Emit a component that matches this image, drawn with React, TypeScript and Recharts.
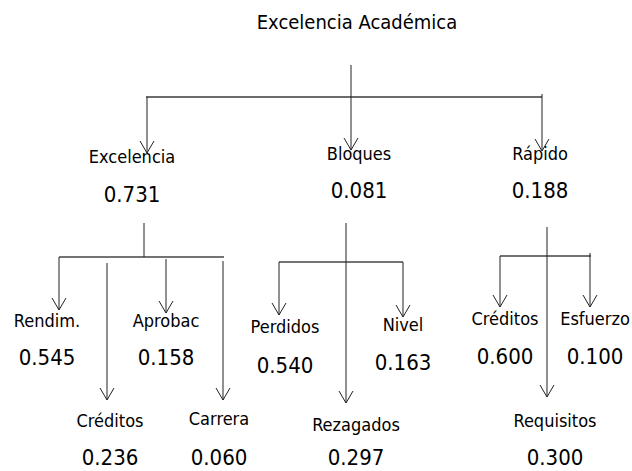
import { ScatterChart, Scatter, XAxis, YAxis, ReferenceLine } from "recharts";

// tree: names, weights and parent of each node
const nodeNames = [
  "Excelencia Académica",
  "Excelencia", "Bloques", "Rápido",
  "Rendim.", "Créditos", "Aprobac", "Carrera",
  "Perdidos", "Rezagados", "Nivel",
  "Créditos", "Requisitos", "Esfuerzo",
];
const nodeWeights = [null, 0.731, 0.081, 0.188, 0.545, 0.236, 0.158, 0.06, 0.54, 0.297, 0.163, 0.6, 0.3, 0.1];
const nodeParents = [-1, 0, 0, 0, 1, 1, 1, 1, 2, 2, 2, 3, 3, 3];

// drawing layout in px (y grows downward)
const labelAt = [
  [357, 29], [132, 163], [359, 160], [540, 160],
  [47, 327], [110, 427], [166, 327], [219, 425],
  [285, 333], [356, 431], [403, 331],
  [505, 325], [555, 427], [595, 325],
];
const valueBaseline = [0, 202, 198, 198, 365, 465, 365, 465, 373, 465, 370, 364, 465, 364];
// arrow into each node: x, start y, tip y
const arrowAt = [
  null, [147, 97, 153], [351, 65, 150], [542, 94, 151],
  [59, 257, 310], [107, 263, 400], [166, 259, 313], [223, 261, 400],
  [279, 262, 315], [346, 223, 403], [403, 262, 317],
  [500, 256, 307], [547, 227, 397], [590, 253, 307],
];
// horizontal bar under each parent: y, x from, x to
const barAt: Record<number, number[]> = {
  0: [97, 146, 542],
  1: [257, 59, 224],
  2: [262, 279, 403],
  3: [256, 500, 591],
};
const stems = [[144, 223, 257]];

const FONT = "'DejaVu Sans Condensed', 'DejaVu Sans', sans-serif";

const labelPoints = nodeNames.map((name, i) => ({
  x: labelAt[i][0],
  y: labelAt[i][1],
  text: name,
  size: i === 0 ? 20 : 18,
}));
const valuePoints = nodeWeights
  .map((w, i) => (w == null ? null : { x: labelAt[i][0], y: valueBaseline[i], text: w.toFixed(3), size: 22 }))
  .filter(Boolean);

const TextShape = (props: any) => (
  <text
    x={props.cx}
    y={props.cy}
    textAnchor="middle"
    fontFamily={FONT}
    fontStretch="semi-condensed"
    fontSize={props.payload.size}
    fill="#000"
  >
    {props.payload.text}
  </text>
);

export default function App() {
  const lines: any[] = [];
  Object.entries(barAt).forEach(([p, [y, x1, x2]]) => {
    lines.push({ k: "bar" + p, a: { x: x1, y }, b: { x: x2, y }, stroke: p === "0" ? "#6b6b6b" : "#444", w: p === "0" ? 2 : 1.5 });
  });
  stems.forEach(([x, y1, y2], i) => {
    lines.push({ k: "stem" + i, a: { x, y: y1 }, b: { x, y: y2 }, stroke: "#222", w: 1 });
  });
  nodeParents.forEach((p, i) => {
    if (p < 0) return;
    const [x, y1, tip] = arrowAt[i] as number[];
    lines.push({ k: "arr" + i, a: { x, y: y1 }, b: { x, y: tip }, stroke: "#222", w: 1 });
    lines.push({ k: "hl" + i, a: { x: x - 7, y: tip - 12 }, b: { x, y: tip }, stroke: "#222", w: 1 });
    lines.push({ k: "hr" + i, a: { x: x + 7, y: tip - 12 }, b: { x, y: tip }, stroke: "#222", w: 1 });
  });

  return (
    <div style={{ position: "absolute", left: 0, top: 0, background: "#fff" }}>
      <ScatterChart width={632} height={471} margin={{ top: 0, right: 0, bottom: 0, left: 0 }}>
        <XAxis type="number" dataKey="x" domain={[0, 632]} hide />
        <YAxis type="number" dataKey="y" domain={[0, 471]} reversed hide />
        {lines.map((l) => (
          <ReferenceLine
            key={l.k}
            segment={[l.a, l.b]}
            stroke={l.stroke}
            strokeWidth={l.w}
            ifOverflow="visible"
          />
        ))}
        <Scatter data={labelPoints} shape={TextShape} isAnimationActive={false} />
        <Scatter data={valuePoints} shape={TextShape} isAnimationActive={false} />
      </ScatterChart>
    </div>
  );
}
